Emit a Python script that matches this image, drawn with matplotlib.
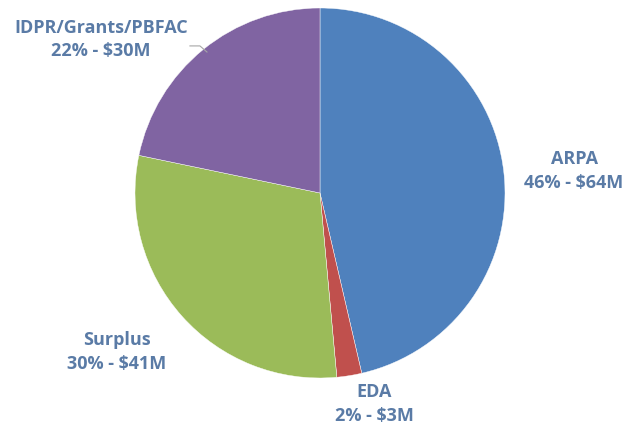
import matplotlib.pyplot as plt

labels = ["ARPA", "EDA", "Surplus", "IDPR/Grants/PBFAC"]
values = [64, 3, 41, 30]
percents = [46, 2, 30, 22]
colors = ["#4F81BD", "#C0504D", "#9BBB59", "#8064A2"]

# label positions in pie data units (radius 1)
label_pos = [(1.373, 0.124), (0.292, -1.135), (-1.10, -0.854), (-1.184, 0.835)]

fig = plt.figure(figsize=(6.44, 4.27), dpi=100)
ax = fig.add_axes([135 / 644, 48 / 427, 370 / 644, 370 / 427])

ax.pie(values, colors=colors, startangle=90, counterclock=False, radius=1,
       wedgeprops=dict(linewidth=0.3, edgecolor="white"))
ax.set_xlim(-1, 1)
ax.set_ylim(-1, 1)
ax.set_aspect("equal")

for name, pct, val, (x, y) in zip(labels, percents, values, label_pos):
    ax.text(x, y, f"{name}\n{pct}% - ${val}M", ha="center", va="center",
            fontsize=13, fontweight="bold", color="#5A7BA6",
            family="Open Sans", linespacing=1.4, clip_on=False)

# small leader line for the IDPR label
ax.plot([-0.703, -0.649, -0.611], [0.795, 0.795, 0.762], color="#A6A6A6",
        lw=0.8, clip_on=False)

fig.savefig("out.png", dpi=100)
